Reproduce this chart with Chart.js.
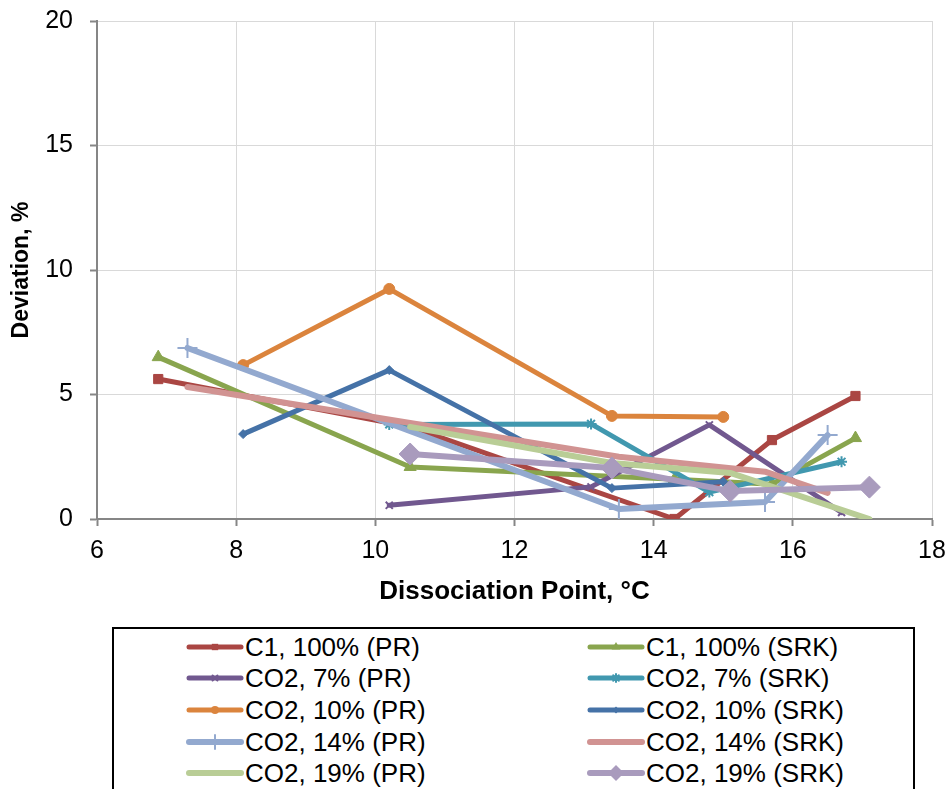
<!DOCTYPE html>
<html>
<head>
<meta charset="utf-8">
<script src="https://cdn.jsdelivr.net/npm/chart.js@4/dist/chart.umd.min.js"></script>
<style>
  html, body { margin: 0; padding: 0; background: #fff; }
  #wrap { position: relative; width: 952px; height: 789px; overflow: hidden; }
  #wrap canvas#chart { position: absolute; left: 0; top: 0; }
  #legend { position: absolute; left: 112px; top: 627px; width: 803px; height: 200px;
            border: 2px solid #000; box-sizing: border-box; background: #fff;
            font-family: "Liberation Sans", Arial, sans-serif; font-size: 26px; color: #000; }
  .item { position: absolute; height: 32px; display: flex; align-items: center; white-space: nowrap; }
  .item canvas { margin-right: 1px; }
</style>
</head>
<body>
<div id="wrap">
  <canvas id="chart" width="952" height="789"></canvas>
  <div id="legend"></div>
</div>
<script>
// ---- Data ----
const seriesNames = [
  "C1, 100% (PR)", "C1, 100% (SRK)",
  "CO2, 7% (PR)", "CO2, 7% (SRK)",
  "CO2, 10% (PR)", "CO2, 10% (SRK)",
  "CO2, 14% (PR)", "CO2, 14% (SRK)",
  "CO2, 19% (PR)", "CO2, 19% (SRK)"
];
const c1X      = [6.88, 10.5, 14.3, 15.7, 16.9];
const c1PR     = [5.62, 3.7, 0.0, 3.17, 4.94];
const c1SRK    = [6.5, 2.09, 1.6, 1.4, 3.25];
const co2_7X   = [10.2, 13.1, 14.8, 16.7];
const co2_7PR  = [0.55, 1.29, 3.78, 0.26];
const co2_7SRK = [3.8, 3.82, 1.08, 2.3];
const co2_10X  = [8.1, 10.2, 13.4, 15.0];
const co2_10PR = [6.18, 9.24, 4.14, 4.1];
const co2_10SRK= [3.41, 5.98, 1.24, 1.5];
const co2_14X  = [7.3, 13.5, 15.6, 16.5];
const co2_14PR = [6.87, 0.4, 0.68, 3.37];
const co2_14SRK= [5.3, 2.5, 1.9, 1.05];
const co2_19X  = [10.5, 13.4, 15.1, 17.1];
const co2_19PR = [3.7, 2.25, 1.85, 0.0];
const co2_19SRK= [2.61, 2.05, 1.12, 1.28];
const xTicks = [6, 8, 10, 12, 14, 16, 18];
const yTicks = [0, 5, 10, 15, 20];

// ---- Styles ----
const seriesX = [c1X, c1X, co2_7X, co2_7X, co2_10X, co2_10X, co2_14X, co2_14X, co2_19X, co2_19X];
const seriesY = [c1PR, c1SRK, co2_7PR, co2_7SRK, co2_10PR, co2_10SRK, co2_14PR, co2_14SRK, co2_19PR, co2_19SRK];
const colors = ["#AA4643", "#89A54E", "#71588F", "#4198AF", "#DB843D", "#4572A7", "#93A9CF", "#D19392", "#B9CD96", "#A99BBD"];
const markers = ["rect", "triangle", "crossRot", "star", "circle", "rectRot", "cross", false, false, "rectRot"];
const radii   = [6.5, 7, 5, 5.5, 5.5, 4.5, 10, 0, 0, 11];
const legendR = [4.5, 5, 3.5, 4, 4, 3.5, 7, 0, 0, 8];
const mBorder = [1, 1, 2, 2, 1, 1, 2, 1, 1, 1];
const widths  = [5, 5, 5, 5, 5, 5, 6, 6, 6, 6];

const datasets = seriesNames.map((name, i) => ({
  label: name,
  data: seriesX[i].map((x, k) => ({ x: x, y: seriesY[i][k] })),
  borderColor: colors[i],
  backgroundColor: colors[i],
  borderWidth: widths[i],
  borderJoinStyle: 'round',
  borderCapStyle: 'round',
  pointStyle: markers[i] || 'circle',
  pointRadius: radii[i],
  pointHoverRadius: radii[i],
  pointBorderWidth: mBorder[i],
  pointBorderColor: colors[i],
  pointBackgroundColor: colors[i],
  tension: 0,
  order: 20 - i
}));

const FONT = "'Liberation Sans', Arial, sans-serif";

new Chart(document.getElementById('chart'), {
  type: 'line',
  data: { datasets },
  options: {
    responsive: false,
    animation: false,
    events: [],
    layout: { padding: { top: 21, right: 20, left: 0, bottom: 174 } },
    plugins: { legend: { display: false }, tooltip: { enabled: false } },
    scales: {
      x: {
        type: 'linear', min: 6, max: 18,
        afterBuildTicks: s => { s.ticks = xTicks.map(v => ({ value: v })); },
        afterFit: s => { s.height = 96; s.paddingLeft = 0; s.paddingRight = 0; },
        grid: { color: '#D9D9D9', lineWidth: 1, tickColor: '#868686', tickLength: 7, tickWidth: 2 },
        border: { color: '#868686', width: 2 },
        ticks: { color: '#000', font: { family: FONT, size: 25 }, padding: 10, maxRotation: 0 },
        title: { display: true, text: 'Dissociation Point, °C', color: '#000',
                 font: { family: FONT, size: 26, weight: 'bold' }, padding: { top: 0, bottom: 8 } }
      },
      y: {
        type: 'linear', min: 0, max: 20,
        afterBuildTicks: s => { s.ticks = yTicks.map(v => ({ value: v })); },
        afterFit: s => { s.width = 97; s.paddingTop = 0; s.paddingBottom = 0; },
        grid: { color: '#D9D9D9', lineWidth: 1, tickColor: '#868686', tickLength: 7, tickWidth: 2 },
        border: { color: '#868686', width: 2 },
        ticks: { color: '#000', font: { family: FONT, size: 25 }, padding: 17 },
        title: { display: true, text: 'Deviation, %', color: '#000',
                 font: { family: FONT, size: 23, weight: 'bold' }, padding: { top: 8, bottom: 0 } }
      }
    }
  }
});

// ---- HTML legend (Excel-like, two columns) ----
function drawMarker(ctx, style, x, y, r, color, bw) {
  ctx.save();
  ctx.fillStyle = color; ctx.strokeStyle = color; ctx.lineWidth = bw;
  ctx.beginPath();
  switch (style) {
    case 'rect': { const h = r * Math.SQRT1_2; ctx.rect(x - h, y - h, 2 * h, 2 * h); ctx.fill(); break; }
    case 'triangle': { ctx.moveTo(x, y - r); ctx.lineTo(x + r * 0.87, y + r * 0.5); ctx.lineTo(x - r * 0.87, y + r * 0.5); ctx.closePath(); ctx.fill(); break; }
    case 'circle': { ctx.arc(x, y, r, 0, Math.PI * 2); ctx.fill(); break; }
    case 'rectRot': { ctx.moveTo(x, y - r); ctx.lineTo(x + r, y); ctx.lineTo(x, y + r); ctx.lineTo(x - r, y); ctx.closePath(); ctx.fill(); break; }
    case 'cross': { ctx.moveTo(x - r, y); ctx.lineTo(x + r, y); ctx.moveTo(x, y - r); ctx.lineTo(x, y + r); ctx.stroke(); break; }
    case 'crossRot': { const d = r * 0.7; ctx.moveTo(x - d, y - d); ctx.lineTo(x + d, y + d); ctx.moveTo(x + d, y - d); ctx.lineTo(x - d, y + d); ctx.stroke(); break; }
    case 'star': { const d = r * 0.7; ctx.moveTo(x - d, y - d); ctx.lineTo(x + d, y + d); ctx.moveTo(x + d, y - d); ctx.lineTo(x - d, y + d); ctx.moveTo(x, y - r); ctx.lineTo(x, y + r); ctx.stroke(); break; }
  }
  ctx.restore();
}
const legend = document.getElementById('legend');
const rowTops = [631, 662, 694, 726, 757];
const colIconLeft = [186, 587];
seriesNames.forEach((name, i) => {
  const row = Math.floor(i / 2), col = i % 2;
  const item = document.createElement('div');
  item.className = 'item';
  item.style.left = (colIconLeft[col] - 112 - 2) + 'px';
  item.style.top = (rowTops[row] - 627 - 2) + 'px';
  const c = document.createElement('canvas');
  c.width = 58; c.height = 22;
  const ctx = c.getContext('2d');
  ctx.strokeStyle = colors[i]; ctx.lineWidth = widths[i]; ctx.lineCap = 'round';
  ctx.beginPath(); ctx.moveTo(3, 11); ctx.lineTo(55, 11); ctx.stroke();
  if (markers[i]) drawMarker(ctx, markers[i], 29, 11, legendR[i], colors[i], mBorder[i]);
  const t = document.createElement('span');
  t.textContent = name;
  item.appendChild(c); item.appendChild(t);
  legend.appendChild(item);
});
</script>
</body>
</html>
